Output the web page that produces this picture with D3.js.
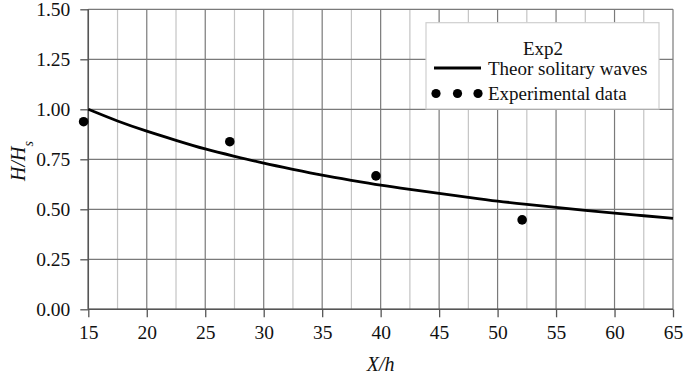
<!DOCTYPE html>
<html>
<head>
<meta charset="utf-8">
<script src="https://cdn.jsdelivr.net/npm/d3@7"></script>
<style>
  body { margin: 0; background: #fff; }
  svg, svg text, svg tspan { font-family: 'Liberation Serif', 'Times New Roman', Times !important; }
</style>
</head>
<body>
<script>
// theoretical curve
var theorX = [15, 17.5, 20, 22.5, 25, 27.5, 30, 32.5, 35, 37.5, 40, 42.5, 45, 47.5, 50, 52.5, 55, 57.5, 60, 62.5, 65];
var theorY = [1.00, 0.94, 0.89, 0.845, 0.80, 0.765, 0.73, 0.70, 0.67, 0.645, 0.62, 0.60, 0.58, 0.56, 0.54, 0.525, 0.51, 0.495, 0.48, 0.468, 0.455];

// experimental points
var expX = [14.6, 27.1, 39.6, 52.1];
var expY = [0.938, 0.838, 0.667, 0.447];

var xTicks = [15, 20, 25, 30, 35, 40, 45, 50, 55, 60, 65];
var yTicks = [0, 0.25, 0.5, 0.75, 1.0, 1.25, 1.5];

var width = 685, height = 376;
var margin = {left: 88.3, right: 12, top: 9.3, bottom: 66.7};
var serif = "Liberation Serif";

var svg = d3.select("body").append("svg")
    .attr("width", width)
    .attr("height", height)
    .attr("font-family", serif);

var x = d3.scaleLinear().domain([15, 65]).range([margin.left, width - margin.right]);
var y = d3.scaleLinear().domain([0, 1.5]).range([height - margin.bottom, margin.top]);

// minor vertical grid (every 2.5)
var minor = d3.range(17.5, 65, 5);
svg.append("g").selectAll("line")
    .data(minor).enter().append("line")
    .attr("x1", d => x(d)).attr("x2", d => x(d))
    .attr("y1", y(0)).attr("y2", y(1.5))
    .attr("stroke", "#c4c4c4").attr("stroke-width", 1.2);

// major vertical grid
svg.append("g").selectAll("line")
    .data(xTicks).enter().append("line")
    .attr("x1", d => x(d)).attr("x2", d => x(d))
    .attr("y1", y(0)).attr("y2", y(1.5))
    .attr("stroke", "#7a7a7a").attr("stroke-width", 1.2);

// horizontal grid
svg.append("g").selectAll("line")
    .data(yTicks).enter().append("line")
    .attr("x1", x(15)).attr("x2", x(65))
    .attr("y1", d => y(d)).attr("y2", d => y(d))
    .attr("stroke", "#7a7a7a").attr("stroke-width", 1.2);

// axes
var xAxis = svg.append("g")
    .attr("transform", "translate(0," + y(0) + ")")
    .call(d3.axisBottom(x).tickValues(xTicks).tickSize(8).tickPadding(8).tickFormat(d3.format("d")));
var yAxis = svg.append("g")
    .attr("transform", "translate(" + x(15) + ",0)")
    .call(d3.axisLeft(y).tickValues(yTicks).tickSize(8).tickPadding(10).tickFormat(d3.format(".2f")));

[xAxis, yAxis].forEach(function(a) {
  a.attr("font-family", serif).attr("font-size", 19.5);
  a.select(".domain").attr("stroke", "#555").attr("stroke-width", 1.5);
  a.selectAll(".tick line").attr("stroke", "#555").attr("stroke-width", 1.3);
  a.selectAll("text").attr("fill", "#111").attr("font-family", serif);
});
yAxis.select(".domain").attr("d", "M0," + y(0) + "V" + y(1.5));
xAxis.select(".domain").attr("d", "M" + x(15) + ",0H" + x(65));

// theoretical line
var pts = theorX.map((d, i) => [d, theorY[i]]);
svg.append("path")
    .datum(pts)
    .attr("fill", "none")
    .attr("stroke", "#000")
    .attr("stroke-width", 2.8)
    .attr("d", d3.line().x(d => x(d[0])).y(d => y(d[1])).curve(d3.curveBasis));

// experimental dots
svg.append("g").selectAll("circle")
    .data(expX).enter().append("circle")
    .attr("cx", d => x(d))
    .attr("cy", (d, i) => y(expY[i]))
    .attr("r", 4.8)
    .attr("fill", "#000");

// axis titles
svg.append("text")
    .attr("x", x(40)).attr("y", 371)
    .attr("text-anchor", "middle")
    .attr("font-family", serif)
    .attr("font-size", 20).attr("font-style", "italic")
    .attr("fill", "#111")
    .text("X/h");

var yl = svg.append("text")
    .attr("transform", "translate(25," + 161 + ") rotate(-90)")
    .attr("text-anchor", "middle")
    .attr("fill", "#111")
    .attr("font-family", serif)
    .attr("font-size", 20).attr("font-style", "italic");
yl.append("tspan").text("H/H");
yl.append("tspan").attr("baseline-shift", "sub").attr("font-size", 14).text("s");

// legend
var lg = svg.append("g");
lg.append("rect")
    .attr("x", 426).attr("y", 22.7).attr("width", 233).attr("height", 86.3)
    .attr("fill", "#fff").attr("stroke", "#cfcfcf").attr("stroke-width", 1.2);
lg.append("text")
    .attr("x", 543).attr("y", 55).attr("text-anchor", "middle")
    .text("Exp2");
lg.append("line")
    .attr("x1", 434).attr("x2", 481).attr("y1", 68).attr("y2", 68)
    .attr("stroke", "#000").attr("stroke-width", 2.8);
lg.append("text")
    .attr("x", 488).attr("y", 75).text("Theor solitary waves");
lg.selectAll("circle.leg")
    .data([436, 457.5, 478]).enter().append("circle")
    .attr("class", "leg")
    .attr("cx", d => d).attr("cy", 93.5).attr("r", 4.6).attr("fill", "#000");
lg.append("text")
    .attr("x", 488).attr("y", 100).text("Experimental data");
lg.selectAll("text")
    .attr("fill", "#111")
    .attr("font-family", serif)
    .attr("font-size", 19);
</script>
</body>
</html>
